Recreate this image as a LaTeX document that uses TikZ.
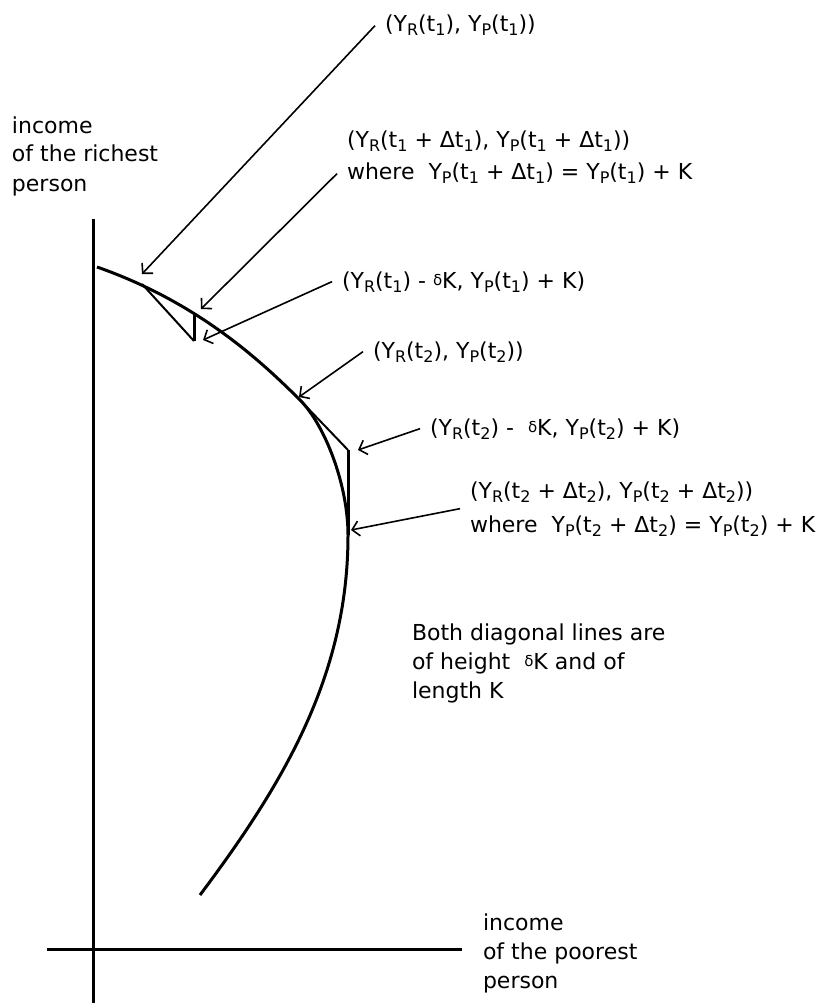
\documentclass[tikz,border=0pt]{standalone}
\usepackage{fontspec}
\setmainfont{DejaVu Sans}
\usetikzlibrary{arrows.meta}
% lowered index and raised small delta, as in the labels
\newcommand{\lo}[1]{\raisebox{-4pt}{\fontsize{16}{16}\selectfont #1}}
\newcommand{\dK}{\raisebox{3pt}{\fontsize{15}{15}\selectfont δ}K}
\begin{document}
\begin{tikzpicture}[x=1pt,y=-1pt,
  lab/.style={anchor=base west,inner sep=0pt,outer xsep=10pt,outer ysep=0pt,
    align=left,font=\fontsize{22}{29}\selectfont},
  arr/.style={-{Straight Barb[length=7pt,width=15pt]},line width=1.6pt}]
  \useasboundingbox (0,0) rectangle (819,1003);
  % Axes
  \draw[line width=3pt] (93,219) -- (93,1003);
  \draw[line width=3pt] (47,949) -- (462,949);
  % Points of the two steps
  \coordinate (start) at (97,267);
  \coordinate (ta) at (142,284);
  \coordinate (tatop) at (194,313);
  \coordinate (talow) at (194,341);
  \coordinate (tb) at (300,400);
  \coordinate (tbtop) at (348,450);
  \coordinate (tblow) at (348,535);
  \coordinate (finish) at (200,895);
  % Frontier
  \draw[line width=3pt] (start) .. controls (197,302) and (260,360) .. (tb)
    .. controls (325,425) and (348,485) .. (tblow)
    .. controls (348,675) and (284,783) .. (finish);
  % Diagonal of height dK and length K, then back to the curve
  \draw[line width=2pt] (ta) -- (talow);
  \draw[line width=3pt] (talow) -- (tatop);
  \draw[line width=2pt] (tb) -- (tbtop);
  \draw[line width=3pt] (tbtop) -- (tblow);
  % Arrow tips
  \coordinate (tipa) at (142,274);
  \coordinate (tipb) at (201,309);
  \coordinate (tipc) at (203,340);
  \coordinate (tipd) at (299,397);
  \coordinate (tipe) at (358,450);
  \coordinate (tipf) at (351,530);
  % Axis labels
  \node[lab] (richest) at (2,191) {income\\of the richest\\person};
  \node[lab] (poorest) at (473,988) {income\\of the poorest\\person};
  % Point labels
  \node[lab] (ytone) at (375,32) {(Y\lo{R}(t\lo{1}), Y\lo{P}(t\lo{1}))};
  \node[lab] (ytonedt) at (337,148)
    {(Y\lo{R}(t\lo{1} + Δt\lo{1}), Y\lo{P}(t\lo{1} + Δt\lo{1}))};
  \node[lab] (whereone) at (337,180)
    {where~ Y\lo{P}(t\lo{1} + Δt\lo{1}) = Y\lo{P}(t\lo{1}) + K};
  \node[lab] (ytonek) at (332,288)
    {(Y\lo{R}(t\lo{1}) - \dK, Y\lo{P}(t\lo{1}) + K)};
  \node[lab] (yttwo) at (363,358) {(Y\lo{R}(t\lo{2}), Y\lo{P}(t\lo{2}))};
  \node[lab] (yttwok) at (420,435)
    {(Y\lo{R}(t\lo{2}) -~ \dK, Y\lo{P}(t\lo{2}) + K)};
  \node[lab,font=\fontsize{22}{34}\selectfont] (yttwodt) at (460,532)
    {(Y\lo{R}(t\lo{2} + Δt\lo{2}), Y\lo{P}(t\lo{2} + Δt\lo{2}))\\
     where~ Y\lo{P}(t\lo{2} + Δt\lo{2}) = Y\lo{P}(t\lo{2}) + K};
  \node[lab] (note) at (402,698)
    {Both diagonal lines are\\of height~ \dK{} and of\\length K};
  % Arrows from the labels
  \draw[arr] (ytone.west) -- (tipa);
  \draw[arr] (whereone.west) -- (tipb);
  \draw[arr] (ytonek.west) -- (tipc);
  \draw[arr] (yttwo.west) -- (tipd);
  \draw[arr] (yttwok.west) -- (tipe);
  \draw[arr] (yttwodt.west) -- (tipf);
\end{tikzpicture}
\end{document}
